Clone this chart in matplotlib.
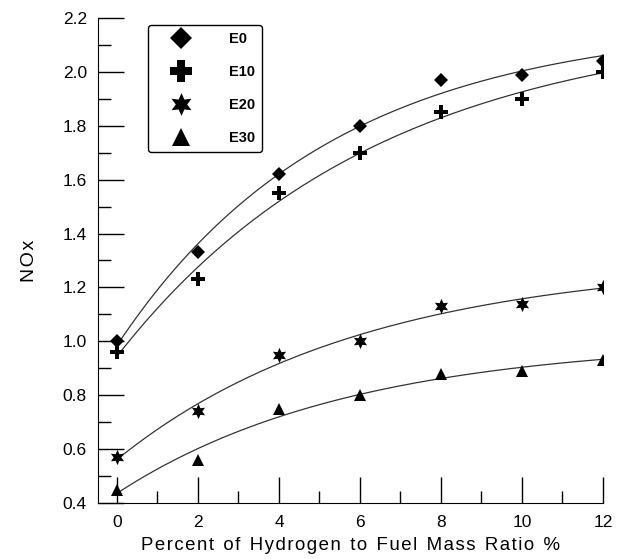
import matplotlib
matplotlib.use("Agg")
import matplotlib.pyplot as plt
import numpy as np
from matplotlib.ticker import MultipleLocator, FormatStrFormatter

plt.rcParams["font.family"] = ["Liberation Sans", "DejaVu Sans"]

h2_percent = [0, 2, 4, 6, 8, 10, 12]
nox_e0 = [1.00, 1.33, 1.62, 1.80, 1.97, 1.99, 2.04]
nox_e10 = [0.96, 1.23, 1.55, 1.70, 1.85, 1.90, 2.00]
nox_e20 = [0.57, 0.74, 0.95, 1.00, 1.13, 1.14, 1.20]
nox_e30 = [0.45, 0.56, 0.75, 0.80, 0.88, 0.89, 0.93]
series_names = ["E0", "E10", "E20", "E30"]

markers = {"E0": ("D", 7.5), "E10": ("P", 10.5), "E20": ((6, 1, 0), 11), "E30": ("^", 9)}


def saturation_fit(x, y, xs):
    # y = a + b * exp(-x / tau), tau picked by a simple grid search
    best = None
    for tau in np.linspace(1, 40, 400):
        basis = np.column_stack([np.ones_like(x), np.exp(-x / tau)])
        coef, *_ = np.linalg.lstsq(basis, y, rcond=None)
        err = np.sum((basis @ coef - y) ** 2)
        if best is None or err < best[0]:
            best = (err, tau, coef)
    _, tau, coef = best
    return coef[0] + coef[1] * np.exp(-xs / tau)


fig = plt.figure(figsize=(6.26, 5.59), dpi=100)
ax = fig.add_axes([0.1565, 0.1002, 0.8065, 0.8676])

x = np.array(h2_percent, dtype=float)
xs = np.linspace(0, 12, 200)
for name, values in zip(series_names, [nox_e0, nox_e10, nox_e20, nox_e30]):
    ax.plot(xs, saturation_fit(x, np.array(values), xs), color="#333333", lw=0.9, zorder=2)
    m, s = markers[name]
    ax.plot(x, values, linestyle="none", marker=m, markersize=s, color="black",
            markeredgewidth=0, label=name, zorder=3)

ax.set_xlim(-0.47, 12)
ax.set_ylim(0.4, 2.2)
ax.xaxis.set_major_locator(MultipleLocator(2))
ax.xaxis.set_minor_locator(MultipleLocator(1))
ax.yaxis.set_major_locator(MultipleLocator(0.2))
ax.yaxis.set_minor_locator(MultipleLocator(0.1))
ax.yaxis.set_major_formatter(FormatStrFormatter("%.1f"))
ax.tick_params(which="major", direction="in", length=19, width=1, labelsize=12.5, pad=9)
ax.tick_params(which="minor", direction="in", length=9, width=1)
ax.tick_params(axis="y", pad=8)
for side in ["top", "right"]:
    ax.spines[side].set_visible(False)

xlabel = "Percent of Hydrogen to Fuel Mass Ratio %"
ax.set_xlabel("\u200a".join(xlabel).replace("\u200a \u200a", "\u2002"), fontsize=13.4, labelpad=5)
ax.set_ylabel("N\u200aO\u200ax", fontsize=14, labelpad=18)

leg = ax.legend(loc="upper left", bbox_to_anchor=(0.099, 0.986), borderaxespad=0,
                frameon=True, fancybox=True, edgecolor="black", framealpha=1,
                borderpad=0.5, labelspacing=1.3, handletextpad=1.55, handlelength=3.5,
                markerscale=1.5, prop={"weight": "bold", "size": 10.5})
leg.get_frame().set_linewidth(1.0)

fig.savefig("out.png", dpi=100)
